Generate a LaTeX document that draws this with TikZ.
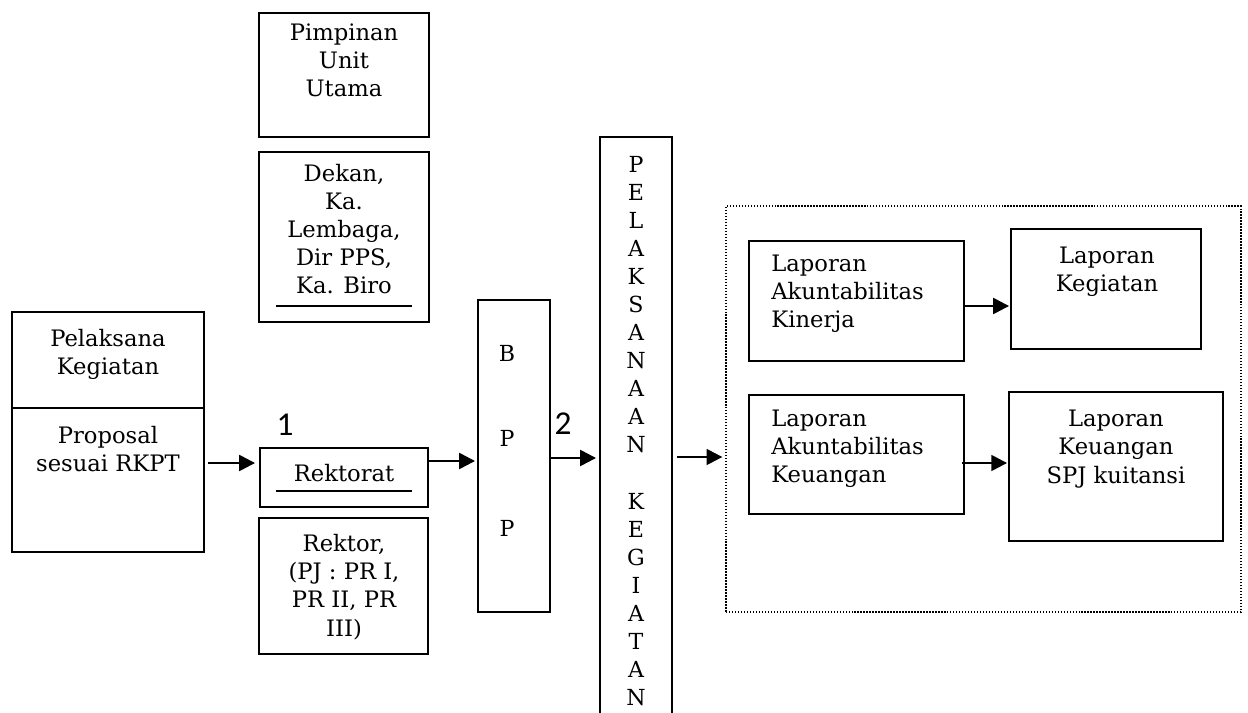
\documentclass[tikz,border=0pt]{standalone}
\usepackage{fontspec}
\setmainfont{DejaVu Serif}
\newfontfamily\numfont{Carlito}
\usetikzlibrary{arrows.meta}
\begin{document}
\begin{tikzpicture}[x=0.02cm,y=-0.02cm,
  box/.style={draw, line width=1.1pt, inner sep=0pt},
  dotbox/.style={draw, line width=0.8pt, dash pattern=on 0.8pt off 0.9pt, inner sep=0pt},
  txt/.style={align=center, font=\fontsize{12.9}{16}\selectfont, inner sep=0pt},
  ltxt/.style={align=left, font=\fontsize{12.9}{16}\selectfont, inner sep=0pt, anchor=west},
  letter/.style={font=\fontsize{12.6}{16}\selectfont, inner sep=0pt},
  num/.style={font=\numfont\fontsize{19}{22}\selectfont, inner sep=0pt},
  arr/.style={line width=1.4pt, -{Triangle[length=9pt,width=9pt]}},
  uline/.style={line width=1.1pt}]
\clip (0,0) rectangle (1248,713);
\useasboundingbox (0,0) rectangle (1248,713);
\fill[white] (0,0) rectangle (1248,713);

% boxes
\node[box, minimum width=3.84cm, minimum height=4.8cm] (pk) at (108,432) {};
\node[box, minimum width=3.4cm, minimum height=2.48cm] (pim) at (344,75) {};
\node[box, minimum width=3.4cm, minimum height=3.4cm] (dek) at (344,237) {};
\node[box, minimum width=3.36cm, minimum height=1.18cm] (rkt) at (344,477.5) {};
\node[box, minimum width=3.38cm, minimum height=2.72cm] (rek) at (343.5,586) {};
\node[box, minimum width=1.44cm, minimum height=6.24cm] (bpp) at (514,456) {};
\node[box, minimum width=1.44cm, minimum height=12.06cm] (pel) at (636,438.5) {};
\node[dotbox, minimum width=10.3cm, minimum height=8.12cm] (dot) at (983.5,409) {};
\node[box, minimum width=4.3cm, minimum height=2.4cm] (lak) at (856.5,301) {};
\node[box, minimum width=3.8cm, minimum height=2.4cm] (lkg) at (1106,289) {};
\node[box, minimum width=4.3cm, minimum height=2.38cm] (lakeu) at (856.5,454.5) {};
\node[box, minimum width=4.28cm, minimum height=2.98cm] (lkeu) at (1116,466.5) {};

% divider and underlines
\draw[uline] (pk.west |- 0,408) -- (pk.east |- 0,408);
\draw[uline] (276,306) -- (412,306);
\draw[uline] (276,491) -- (412,491);

% texts
\node[txt] (tpk1) at (108,354) {Pelaksana\\Kegiatan};
\node[txt] (tpk2) at (108,449) {Proposal\\sesuai RKPT};
\node[txt] (tpim) at (344,60) {Pimpinan\\Unit\\Utama};
\node[txt] (tdek) at (344,229) {Dekan,\\Ka.\\Lembaga,\\Dir PPS,\\Ka. Biro};
\node[txt] (trkt) at (344,473) {Rektorat};
\node[txt] (trek) at (344,587) {Rektor,\\(PJ : PR I,\\PR II, PR\\III)};
\node[letter] (b1) at (507,353) {B};
\node[letter] (b2) at (507,438) {P};
\node[letter] (b3) at (507,528) {P};
\foreach \c [count=\i] in {P,E,L,A,K,S,A,N,A,A,N}
  \node[letter] (pa\i) at (636,{164+(\i-1)*28.1}) {\c};
\foreach \c [count=\i] in {K,E,G,I,A,T,A,N}
  \node[letter] (pb\i) at (636,{501.2+(\i-1)*28.1}) {\c};
\node[ltxt] (tlak) at (771,294) {Laporan\\Akuntabilitas\\Kinerja};
\node[txt] (tlkg) at (1107,272) {Laporan\\Kegiatan};
\node[ltxt] (tlakeu) at (771,449) {Laporan\\Akuntabilitas\\Keuangan};
\node[txt] (tlkeu) at (1116,449) {Laporan\\Keuangan\\SPJ kuitansi};
\node[num] (n1) at (285,425) {1};
\node[num] (n2) at (563,424) {2};

% arrows
\draw[arr, shorten <=0.06cm, shorten >=0.08cm] (pk.east |- 0,463) -- (rkt.west |- 0,463);
\draw[arr, shorten >=0.04cm] (rkt.east |- 0,461) -- (bpp.west |- 0,461);
\draw[arr, shorten >=0.06cm] (bpp.east |- 0,458) -- (pel.west |- 0,458);
\draw[arr, shorten <=0.08cm, shorten >=0.06cm] (pel.east |- 0,457) -- (dot.west |- 0,457);
\draw[arr, shorten >=0.02cm] (lak.east |- 0,306) -- (lkg.west |- 0,306);
\draw[arr, shorten <=-0.06cm, shorten >=0.02cm] (lakeu.east |- 0,463) -- (lkeu.west |- 0,463);
\end{tikzpicture}
\end{document}
